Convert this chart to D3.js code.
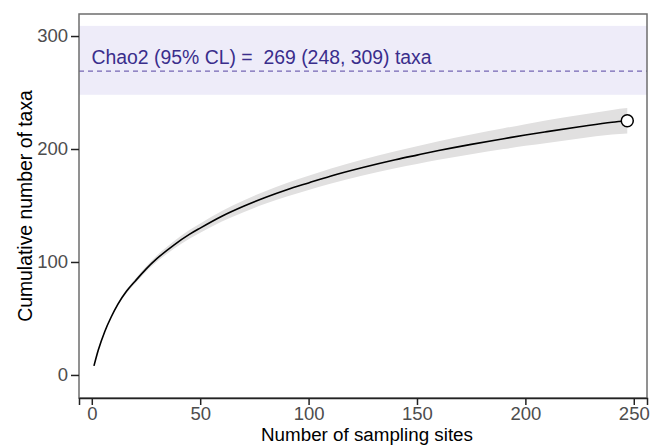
<!DOCTYPE html>
<html>
<head>
<meta charset="utf-8">
<script src="https://cdn.jsdelivr.net/npm/d3@7"></script>
<style>
  body { margin: 0; background: #fff; }
  svg { font-family: Arial, "Liberation Sans", sans-serif; }
</style>
</head>
<body>
<div id="chart"></div>
<script>
// rarefaction curve
const sites = [1, 3, 6, 9, 12, 16, 20, 25, 30, 38, 45, 50, 60, 70, 80, 90, 100, 110, 125, 140, 150, 160, 175, 190, 200, 210, 225, 240, 247];
const taxa = [8, 22, 38.5, 51.5, 62.5, 74, 83, 93.7, 102.9, 115.2, 124.4, 130, 140.5, 149.3, 157.1, 164, 170, 175.9, 183.6, 190.5, 194.6, 198.6, 204.1, 209.1, 212.4, 215.4, 219.7, 223.7, 225];
const lower = [8, 21.7, 37.9, 50.5, 61.2, 72.3, 81, 91.3, 100.1, 111.9, 120.6, 125.9, 135.8, 144.1, 151.5, 158, 163.7, 169.3, 176.6, 183, 186.7, 190.4, 195.4, 199.9, 202.8, 205.4, 209.3, 212.8, 213.8];
const upper = [8, 22.3, 39.1, 52.5, 63.8, 75.7, 85, 96.1, 105.7, 118.5, 128.2, 134.1, 145.2, 154.5, 162.7, 170, 176.3, 182.5, 190.6, 198, 202.5, 206.8, 212.8, 218.3, 222, 225.4, 230.1, 234.6, 236.2];

// Chao2 estimate
const chao2 = 269;
const chao2Low = 248;
const chao2High = 309;

const xTicks = [0, 50, 100, 150, 200, 250];
const yTicks = [0, 100, 200, 300];

const width = 660;
const height = 445;
const margin = { top: 14, right: 13, bottom: 47, left: 79 };
const plotW = width - margin.left - margin.right;
const plotH = height - margin.top - margin.bottom;

const svg = d3.select("#chart")
  .append("svg")
  .attr("width", width)
  .attr("height", height);

const x = d3.scaleLinear().domain([-5.9, 256.1]).range([0, plotW]);
const y = d3.scaleLinear().domain([-20.4, 319.5]).range([plotH, 0]);

const g = svg.append("g").attr("transform", `translate(${margin.left},${margin.top})`);

// Chao2 confidence band
g.append("rect")
  .attr("x", 0)
  .attr("width", plotW)
  .attr("y", y(chao2High))
  .attr("height", y(chao2Low) - y(chao2High))
  .attr("fill", "#eeecf9");

g.append("line")
  .attr("x1", 0)
  .attr("x2", plotW)
  .attr("y1", y(chao2))
  .attr("y2", y(chao2))
  .attr("stroke", "#7566b4")
  .attr("stroke-width", 1.3)
  .attr("stroke-dasharray", "5,4");

g.append("text")
  .attr("x", 12.5)
  .attr("y", y(chao2) - 7.5)
  .attr("font-size", "19.4px")
  .attr("fill", "#3a2e8c")
  .style("white-space", "pre")
  .text(`Chao2 (95% CL) =  ${chao2} (${chao2Low}, ${chao2High}) taxa`);

// curve data
const curve = sites.map((s, i) => ({ s: s, t: taxa[i], lo: lower[i], hi: upper[i] }));

g.append("path")
  .datum(curve)
  .attr("fill", "#e1e0e0")
  .attr("d", d3.area()
    .x((d) => x(d.s))
    .y0((d) => y(d.lo))
    .y1((d) => y(d.hi))
    .curve(d3.curveMonotoneX));

g.append("path")
  .datum(curve)
  .attr("fill", "none")
  .attr("stroke", "#000")
  .attr("stroke-width", 1.6)
  .attr("d", d3.line()
    .x((d) => x(d.s))
    .y((d) => y(d.t))
    .curve(d3.curveMonotoneX));

const last = curve[curve.length - 1];
g.append("circle")
  .attr("cx", x(last.s))
  .attr("cy", y(last.t))
  .attr("r", 6)
  .attr("fill", "#fff")
  .attr("stroke", "#000")
  .attr("stroke-width", 1.5);

// panel border
g.append("rect")
  .attr("width", plotW)
  .attr("height", plotH)
  .attr("fill", "none")
  .attr("stroke", "#6e6e6e")
  .attr("stroke-width", 1.5);

// axes
const xAxis = g.append("g")
  .attr("transform", `translate(0,${plotH})`)
  .call(d3.axisBottom(x).tickValues(xTicks).tickSize(7).tickPadding(2));
xAxis.select(".domain").attr("stroke", "#222").attr("stroke-width", 1.5);
xAxis.selectAll(".tick line").attr("stroke", "#222").attr("stroke-width", 1.5);
xAxis.selectAll("text").attr("font-size", "18.5px").attr("fill", "#4d4d4d").attr("font-family", "Arial, 'Liberation Sans', sans-serif");

const yAxis = g.append("g")
  .call(d3.axisLeft(y).tickValues(yTicks).tickSize(8).tickPadding(3));
yAxis.select(".domain").remove();
yAxis.selectAll(".tick line").attr("stroke", "#222").attr("stroke-width", 1.5);
yAxis.selectAll("text").attr("font-size", "18.5px").attr("fill", "#4d4d4d").attr("font-family", "Arial, 'Liberation Sans', sans-serif");

// axis titles
svg.append("text")
  .attr("x", margin.left + plotW / 2 + 4)
  .attr("y", 440.8)
  .attr("text-anchor", "middle")
  .attr("font-size", "18.8px")
  .attr("fill", "#000")
  .text("Number of sampling sites");

svg.append("text")
  .attr("transform", `translate(31.5,${margin.top + plotH / 2}) rotate(-90)`)
  .attr("text-anchor", "middle")
  .attr("font-size", "19.4px")
  .attr("fill", "#000")
  .text("Cumulative number of taxa");
</script>
</body>
</html>
